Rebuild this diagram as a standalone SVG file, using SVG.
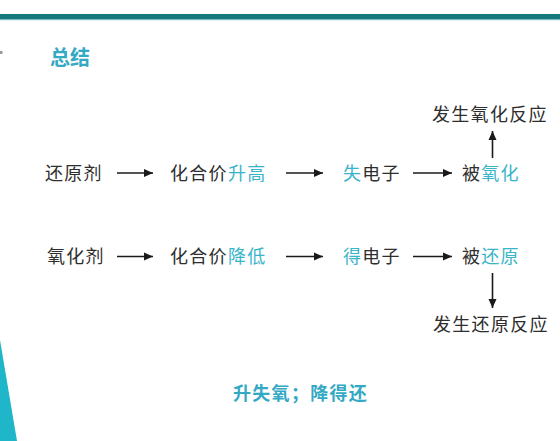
<svg xmlns="http://www.w3.org/2000/svg" width="560" height="441" viewBox="0 0 560 441">
<defs>
<style>
.t{font-family:"Noto Sans CJK SC","Noto Sans",sans-serif;font-size:18px;fill:#2e2e2e;letter-spacing:1.3px}
.h{fill:#3ab4c9}
.b{font-family:"Noto Sans CJK SC","Noto Sans",sans-serif;font-weight:bold;fill:#33a9c3}
.c line{stroke:#1a1a1a;stroke-width:1.6;marker-end:url(#ah)}
</style>
<marker id="ah" markerUnits="userSpaceOnUse" markerWidth="10" markerHeight="10" viewBox="0 0 10 10" refX="9" refY="5" orient="auto">
<path d="M0,1 L9,5 L0,9 Z" fill="#1a1a1a"/>
</marker>
</defs>
<rect width="560" height="441" fill="#ffffff"/>
<rect x="0" y="14" width="560" height="5" fill="#17787e"/>
<rect x="0" y="19" width="560" height="1.2" fill="#7fbcc0"/>
<rect x="0" y="51" width="2.5" height="3" fill="#9a9a9a"/>
<polygon points="0,340 17,441 0,441" fill="#1fb6c9"/>
<g id="title"><text class="b" x="50" y="65" font-size="20">总结</text></g>
<g id="n-huanyuanji"><text class="t" x="45" y="180">还原剂</text></g>
<g id="n-shenggao"><text class="t" x="170" y="180">化合价<tspan class="h">升高</tspan></text></g>
<g id="n-shidianzi"><text class="t" x="343" y="180"><tspan class="h">失</tspan>电子</text></g>
<g id="n-beiyanghua"><text class="t" x="462" y="180">被<tspan class="h">氧化</tspan></text></g>
<g id="n-yanghuafanying"><text class="t" x="432" y="120.5">发生氧化反应</text></g>
<g id="n-yanghuaji"><text class="t" x="47" y="263">氧化剂</text></g>
<g id="n-jiangdi"><text class="t" x="170" y="263">化合价<tspan class="h">降低</tspan></text></g>
<g id="n-dedianzi"><text class="t" x="343" y="263"><tspan class="h">得</tspan>电子</text></g>
<g id="n-beihuanyuan"><text class="t" x="462" y="263">被<tspan class="h">还原</tspan></text></g>
<g id="n-huanyuanfanying"><text class="t" x="433" y="330.5">发生还原反应</text></g>
<g id="summary"><text class="b" x="233" y="399.5" font-size="18" letter-spacing="1.3">升失氧；降得还</text></g>
<g id="connectors" class="c">
<line x1="117" y1="173" x2="153" y2="173"/>
<line x1="286" y1="173" x2="323" y2="173"/>
<line x1="413" y1="173" x2="452" y2="173"/>
<line x1="492.5" y1="158" x2="492.5" y2="131"/>
<line x1="117" y1="256.5" x2="153" y2="256.5"/>
<line x1="286" y1="256.5" x2="323" y2="256.5"/>
<line x1="413" y1="256.5" x2="452" y2="256.5"/>
<line x1="492.5" y1="273" x2="492.5" y2="308"/>
</g>
</svg>
